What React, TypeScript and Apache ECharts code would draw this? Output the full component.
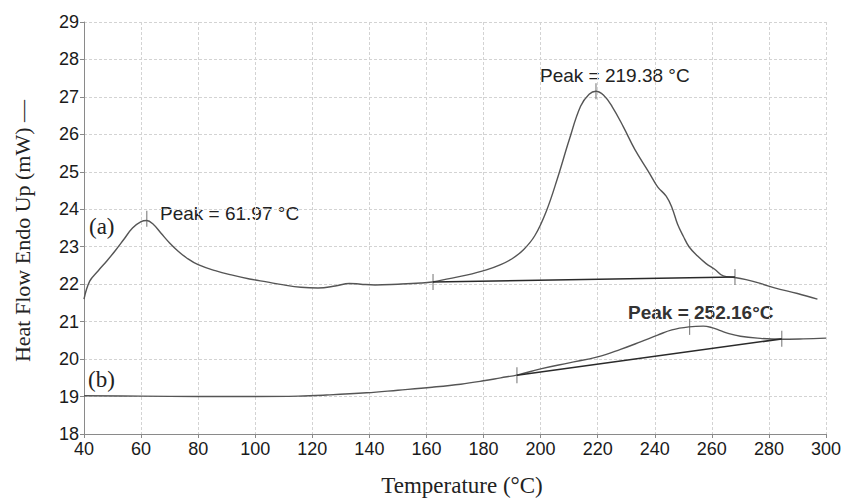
import React, { useEffect, useRef } from "react";
import * as echarts from "echarts";

const xTicks = [40, 300, 20];
const yTicks = [18, 29, 1];

const curveAx = [40, 42, 45, 48, 51, 54, 57, 60, 62, 64, 67, 70, 73, 76, 80, 86, 92, 98, 104, 110, 116, 122, 128, 133, 137, 142, 150, 158, 162, 168, 174, 181, 186, 190, 194, 198, 202, 206, 210, 214, 217, 219.4, 222, 225, 229, 233, 238, 241, 244, 246, 248, 250, 252, 255, 258, 261, 264, 268, 272, 277, 282, 290, 297];
const curveAy = [21.6, 22.08, 22.36, 22.62, 22.9, 23.2, 23.5, 23.67, 23.7, 23.62, 23.36, 23.1, 22.88, 22.7, 22.52, 22.36, 22.24, 22.14, 22.06, 21.98, 21.92, 21.9, 21.95, 22.02, 22.0, 21.98, 22.0, 22.03, 22.06, 22.15, 22.24, 22.38, 22.52, 22.68, 22.92, 23.3, 23.95, 24.85, 25.85, 26.75, 27.07, 27.15, 27.05, 26.75, 26.2, 25.6, 24.98, 24.6, 24.35, 24.05, 23.6, 23.28, 23.0, 22.75, 22.55, 22.4, 22.22, 22.18, 22.12, 22.02, 21.9, 21.75, 21.6];

const curveBx = [40, 60, 80, 100, 115, 125, 139, 150, 162, 172, 180, 186, 192, 200, 210, 220, 228, 235, 241, 246, 252, 257, 260, 263, 266, 270, 276, 284, 292, 300];
const curveBy = [19.02, 19.01, 19.0, 19.0, 19.01, 19.04, 19.1, 19.17, 19.25, 19.33, 19.42, 19.5, 19.58, 19.74, 19.9, 20.06, 20.26, 20.46, 20.64, 20.78, 20.86, 20.88, 20.84, 20.76, 20.68, 20.61, 20.56, 20.53, 20.54, 20.56];

const baseAx = [162.3, 268.1];
const baseAy = [22.06, 22.19];
const baseBx = [191.7, 284.5];
const baseBy = [19.57, 20.54];

const markX = [62, 162.3, 219.4, 268.1, 191.7, 252.2, 284.5];
const markY = [23.75, 22.06, 27.15, 22.19, 19.57, 20.86, 20.54];

const peakLabels = ["Peak = 61.97 °C", "Peak = 219.38 °C", "Peak = 252.16°C"];
const curveLabels = ["(a)", "(b)"];
const xTitle = "Temperature (°C)";
const yTitle = "Heat Flow Endo Up (mW) —";

const zip = (xs: number[], ys: number[]) => xs.map((x, i) => [x, ys[i]]);

export default function App() {
  const ref = useRef<HTMLDivElement>(null);
  useEffect(() => {
    if (!ref.current) return;
    const chart = echarts.init(ref.current, null, { renderer: "svg" });
    const sans = "'Liberation Sans', Arial, sans-serif";
    const serif = "'Liberation Serif', 'Times New Roman', serif";
    const curveStyle = { color: "#555555", width: 1.4 };
    const baseStyle = { color: "#2a2a2a", width: 1.6 };
    chart.setOption({
      animation: false,
      backgroundColor: "#ffffff",
      grid: { left: 84, top: 22, right: 19, bottom: 65 },
      xAxis: {
        type: "value",
        min: xTicks[0],
        max: xTicks[1],
        interval: xTicks[2],
        axisLine: { lineStyle: { color: "#8a8a8a", width: 1 } },
        axisTick: { show: true, length: 4, lineStyle: { color: "#8a8a8a" } },
        axisLabel: { color: "#1a1a1a", fontSize: 18, fontFamily: sans, margin: 6 },
        splitLine: { show: true, lineStyle: { color: "#d3d3d3", type: [3, 2], width: 1 } },
      },
      yAxis: {
        type: "value",
        min: yTicks[0],
        max: yTicks[1],
        interval: yTicks[2],
        axisLine: { show: true, lineStyle: { color: "#8a8a8a", width: 1 } },
        axisTick: { show: true, length: 4, lineStyle: { color: "#8a8a8a" } },
        axisLabel: { color: "#1a1a1a", fontSize: 18, fontFamily: sans, margin: 5 },
        splitLine: { show: true, lineStyle: { color: "#d3d3d3", type: [3, 2], width: 1 } },
      },
      series: [
        { type: "line", data: zip(curveAx, curveAy), smooth: 0.4, showSymbol: false, lineStyle: curveStyle },
        { type: "line", data: zip(curveBx, curveBy), smooth: 0.4, showSymbol: false, lineStyle: curveStyle },
        { type: "line", data: zip(baseAx, baseAy), showSymbol: false, lineStyle: baseStyle },
        { type: "line", data: zip(baseBx, baseBy), showSymbol: false, lineStyle: baseStyle },
        {
          type: "scatter",
          data: zip(markX, markY),
          symbol: "rect",
          symbolSize: [1.2, 16],
          itemStyle: { color: "#6a6a6a" },
        },
      ],
      graphic: [
        { type: "text", x: 160, y: 213, style: { text: peakLabels[0], font: `19px ${sans}`, fill: "#222", textVerticalAlign: "middle" } },
        { type: "text", x: 540, y: 75, style: { text: peakLabels[1], font: `19px ${sans}`, fill: "#222", textVerticalAlign: "middle" } },
        { type: "text", x: 628, y: 312, style: { text: peakLabels[2], font: `bold 19px ${sans}`, fill: "#333", textVerticalAlign: "middle" } },
        { type: "text", x: 89, y: 226, style: { text: curveLabels[0], font: `23px ${serif}`, fill: "#222", textVerticalAlign: "middle" } },
        { type: "text", x: 88, y: 379, style: { text: curveLabels[1], font: `23px ${serif}`, fill: "#222", textVerticalAlign: "middle" } },
        { type: "text", x: 462, y: 485, style: { text: xTitle, font: `23px ${serif}`, fill: "#222", textAlign: "center", textVerticalAlign: "middle" } },
        { type: "text", x: 22, y: 231, rotation: Math.PI / 2, style: { text: yTitle, font: `22px ${serif}`, fill: "#222", textAlign: "center", textVerticalAlign: "middle" } },
      ],
    });
    return () => chart.dispose();
  }, []);
  return <div ref={ref} style={{ width: 845, height: 499, position: "absolute", left: 0, top: 0 }} />;
}
